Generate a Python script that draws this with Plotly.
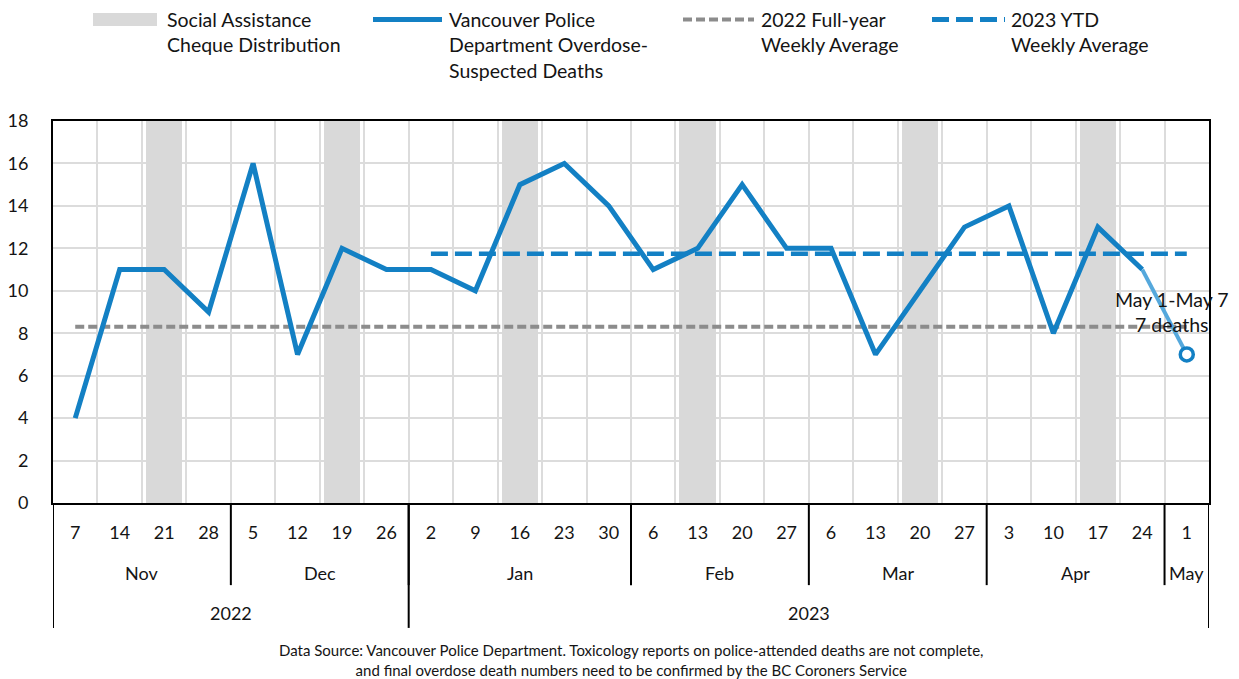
import plotly.graph_objects as go

# Weekly data (week starting dates)
days = ["7", "14", "21", "28", "5", "12", "19", "26", "2", "9", "16", "23", "30",
        "6", "13", "20", "27", "6", "13", "20", "27", "3", "10", "17", "24", "1"]
months = ["Nov", "Dec", "Jan", "Feb", "Mar", "Apr", "May"]
weeks_per_month = [4, 4, 5, 4, 4, 4, 1]
years = ["2022", "2023"]
weeks_per_year = [8, 18]

deaths = [4, 11, 11, 9, 16, 7, 12, 11, 11, 10, 15, 16, 14,
          11, 12, 15, 12, 12, 7, 10, 13, 14, 8, 13, 11, 7]

# Weeks with social assistance cheque distribution
cheque_weeks = [2, 6, 10, 14, 19, 23]

avg_2022 = 8.3
avg_2023_ytd = 11.75
ytd_start = 8  # first week of 2023

FONT = "Lato, Carlito, 'Open Sans', sans-serif"
TXT = "#141414"
BLUE = "#1380C4"
LIGHT_BLUE = "#55A8DC"
GRAY_DASH = "#8c8c8c"
BAND = "#d9d9d9"

n = len(days)
x = list(range(n))

fig = go.Figure()

# Cheque distribution bands
fig.add_trace(go.Bar(
    x=cheque_weeks, y=[18] * len(cheque_weeks), width=0.82,
    marker=dict(color=BAND, line=dict(width=0)),
    name="Social Assistance Cheque Distribution", showlegend=False,
    hoverinfo="skip",
))

# 2022 full-year weekly average
fig.add_trace(go.Scatter(
    x=[0, n - 1], y=[avg_2022, avg_2022], mode="lines",
    line=dict(color=GRAY_DASH, width=4, dash="9px,4px"),
    showlegend=False, hoverinfo="skip",
))

# 2023 YTD weekly average
fig.add_trace(go.Scatter(
    x=[ytd_start, n - 1], y=[avg_2023_ytd, avg_2023_ytd], mode="lines",
    line=dict(color=BLUE, width=4.5, dash="17px,7px"),
    showlegend=False, hoverinfo="skip",
))

# Weekly deaths (complete weeks)
fig.add_trace(go.Scatter(
    x=x[:-1], y=deaths[:-1], mode="lines",
    line=dict(color=BLUE, width=5),
    showlegend=False,
))

# Partial current week
fig.add_trace(go.Scatter(
    x=x[-2:], y=deaths[-2:], mode="lines",
    line=dict(color=LIGHT_BLUE, width=4),
    showlegend=False,
))
fig.add_trace(go.Scatter(
    x=[x[-1]], y=[deaths[-1]], mode="markers",
    marker=dict(symbol="circle", size=13, color="white",
                line=dict(color=BLUE, width=3.5)),
    showlegend=False,
))

shapes = []
annotations = []

# Month and year separators and labels below the axis
pos = -0.5
for m, cnt in zip(months, weeks_per_month):
    annotations.append(dict(
        x=pos + cnt / 2, y=-0.183, xref="x", yref="paper", text=m,
        showarrow=False, font=dict(family=FONT, size=18, color=TXT),
        xanchor="center", yanchor="middle"))
    pos += cnt
    if pos < n - 0.5:
        shapes.append(dict(type="line", xref="x", yref="paper", x0=pos, x1=pos,
                           y0=0, y1=-0.215, line=dict(color="black", width=2)))

pos = -0.5
for yr, cnt in zip(years, weeks_per_year):
    annotations.append(dict(
        x=pos + cnt / 2, y=-0.289, xref="x", yref="paper", text=yr,
        showarrow=False, font=dict(family=FONT, size=18, color=TXT),
        xanchor="center", yanchor="middle"))
    pos += cnt
    if pos < n - 0.5:
        shapes.append(dict(type="line", xref="x", yref="paper", x0=pos, x1=pos,
                           y0=0, y1=-0.327, line=dict(color="black", width=2)))

# Outer borders extending below the axis
for xe in (-0.5, n - 0.5):
    shapes.append(dict(type="line", xref="x", yref="paper", x0=xe, x1=xe,
                       y0=0, y1=-0.327, line=dict(color="black", width=2)))

# Label for the partial week
annotations.append(dict(
    x=24.67, y=9.0, xref="x", yref="y", text="May 1-May 7<br>7 deaths",
    showarrow=False, font=dict(family=FONT, size=19.5, color=TXT),
    xanchor="center", yanchor="middle", align="center"))

# Legend (drawn in pixel-aligned paper space)
W, H = 1239, 679
L, R, T, B = 53, 30, 121, 176
pw, ph = W - L - R, H - T - B


def px(xp):
    return (xp - L) / pw


def py(yp):
    return (H - B - yp) / ph


legend_items = [
    (93, 157, "band", "Social Assistance<br>Cheque Distribution", 165),
    (373, 442, "solid", "Vancouver Police<br>Department Overdose-<br>Suspected Deaths", 447),
    (683, 754, "gray", "2022 Full-year<br>Weekly Average", 759),
    (932, 1005, "blue", "2023 YTD<br>Weekly Average", 1009),
]
for x0, x1, kind, label, tx in legend_items:
    if kind == "band":
        shapes.append(dict(type="rect", xref="paper", yref="paper",
                           x0=px(x0), x1=px(x1), y0=py(26), y1=py(13),
                           fillcolor=BAND, line=dict(width=0)))
    else:
        style = {
            "solid": dict(color=BLUE, width=5),
            "gray": dict(color=GRAY_DASH, width=4, dash="9px,4px"),
            "blue": dict(color=BLUE, width=5, dash="17px,7px"),
        }[kind]
        shapes.append(dict(type="line", xref="paper", yref="paper",
                           x0=px(x0), x1=px(x1), y0=py(19.5), y1=py(19.5),
                           line=style))
    annotations.append(dict(
        x=px(tx), y=py(6), xref="paper", yref="paper", text=label,
        showarrow=False, xanchor="left", yanchor="top", align="left",
        font=dict(family=FONT, size=19.5, color=TXT)))

# Footnote
annotations.append(dict(
    x=px(631), y=py(660), xref="paper", yref="paper",
    text="Data Source: Vancouver Police Department. Toxicology reports on police-attended deaths are not complete,"
         "<br>and final overdose death numbers need to be confirmed by the BC Coroners Service",
    showarrow=False, xanchor="center", yanchor="middle", align="center",
    font=dict(family=FONT, size=15, color=TXT)))

fig.update_layout(
    width=W, height=H,
    margin=dict(l=L, r=R, t=T, b=B),
    paper_bgcolor="white", plot_bgcolor="white",
    showlegend=False, bargap=0,
    shapes=shapes, annotations=annotations,
    font=dict(family=FONT, color=TXT),
)

fig.update_xaxes(
    range=[-0.5, n - 0.5], tickmode="array", tickvals=x, ticktext=days,
    showgrid=False, zeroline=False, automargin=False,
    showline=True, linecolor="black", linewidth=2, mirror=True,
    ticks="", ticklabelstandoff=12,
    tickfont=dict(family=FONT, size=18, color=TXT),
    minor=dict(tick0=-0.5, dtick=1, showgrid=True, gridcolor="#dcdcdc", gridwidth=1.5),
)
fig.update_yaxes(
    range=[0, 18], dtick=2, showgrid=True, gridcolor="#dcdcdc", gridwidth=1.5,
    zeroline=False, showline=True, linecolor="black", linewidth=2, mirror=True,
    automargin=False, ticks="", ticklabelstandoff=19,
    tickfont=dict(family=FONT, size=18, color=TXT),
)

fig.write_html("out.html")
